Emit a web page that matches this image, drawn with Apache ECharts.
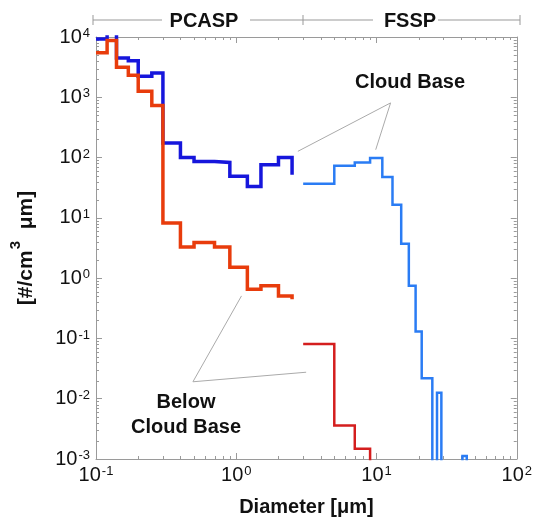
<!DOCTYPE html>
<html>
<head>
<meta charset="utf-8">
<script src="https://cdn.jsdelivr.net/npm/echarts@6/dist/echarts.min.js"></script>
<style>
html,body{margin:0;padding:0;background:#fff;}
#chart{width:535px;height:525px;}
</style>
</head>
<body>
<div id="chart"></div>
<script>
// PCASP bins (um) and concentrations (#/cm3 um)
var pcaspEdges = [0.1, 0.12, 0.14, 0.17, 0.2, 0.25, 0.3, 0.4, 0.5, 0.7, 0.9, 1.2, 1.5, 2.0, 2.5];
var pcaspCloud = [9300, 12000, 4500, 4050, 2230, 2540, 175, 100, 86, 83, 49, 33, 76, 100];
var pcaspCloudEnd = 52;
var pcaspBelow = [5470, 8750, 3150, 2320, 1260, 728, 8.2, 3.27, 3.9, 3.27, 1.52, 0.656, 0.745, 0.508];
var pcaspBelowEnd = 0.448;

// FSSP bins (um) and concentrations
var fsspEdges = [3, 5, 7, 9, 11, 13, 15, 17, 19, 21, 25, 27, 29, 41, 44];
var fsspCloud = [36.8, 73.3, 83, 98, 47.6, 16.5, 3.72, 0.745, 0.13, 0.0218, 0, 0.0126, 0, 0.00112];
var fsspCloudEnd = 0;
var fsspBelowEdges = [3, 5, 7, 9];
var fsspBelow = [0.081, 0.0036, 0.00148];
var fsspBelowEnd = 0;

// decades covered by the axes
var xDecades = [-1, 0, 1];
var yDecades = [-3, -2, -1, 0, 1, 2, 3];

var FLOOR = 1e-5; // empty bins, below the axis
var FONT = 'Liberation Sans, Arial, Helvetica, sans-serif';
var axisGray = '#9a9a9a';

function steps(edges, vals, endVal){
	var pts = [];
	for(var i=0; i<vals.length; i++){
		var v = vals[i] > 0 ? vals[i] : FLOOR;
		pts.push([edges[i], v]);
		pts.push([edges[i+1], v]);
	}
	pts.push([edges[vals.length], endVal > 0 ? endVal : FLOOR]);
	return pts;
}

function minorValues(decades){
	var out = [];
	for(var i=0; i<decades.length; i++){
		for(var k=2; k<=9; k++){
			out.push(k * Math.pow(10, decades[i]));
		}
	}
	return out;
}

function logLabel(v){
	var e = Math.round(Math.log(v) / Math.LN10);
	return '{b|10}{s|' + e + '}';
}

var labelRich = {
	b: {fontSize: 20, fontFamily: FONT, color: '#111'},
	s: {fontSize: 13, fontFamily: FONT, color: '#111', verticalAlign: 'top', padding: [0, 0, 0, 1]}
};

function logAxis(pos, min, max, split, showLabel){
	return {
		type: 'log',
		logBase: 10,
		min: min,
		max: max,
		splitNumber: split,
		position: pos,
		axisLine: {show: true, lineStyle: {color: axisGray, width: 1}},
		axisTick: {show: true, inside: true, length: 6, lineStyle: {color: axisGray}},
		minorTick: {show: false},
		splitLine: {show: false},
		axisLabel: {show: showLabel, formatter: logLabel, rich: labelRich, margin: 6}
	};
}

var xBottom = logAxis('bottom', 0.1, 100, 3, true);
xBottom.name = 'Diameter [{m|\u03bc}m]';
xBottom.nameLocation = 'middle';
xBottom.nameGap = 38;
xBottom.nameTextStyle = {
	fontSize: 20, fontWeight: 'bold', fontFamily: FONT, color: '#111',
	rich: {m: {fontSize: 20, fontFamily: FONT, color: '#111'}}
};

var yLeft = logAxis('left', 0.001, 10000, 7, true);
yLeft.name = '{a|[#/cm}{s|3}{a|  \u03bcm]}';
yLeft.nameLocation = 'middle';
yLeft.nameGap = 52;
yLeft.nameTextStyle = {
	fontSize: 21, fontWeight: 'bold', fontFamily: FONT, color: '#111',
	rich: {
		a: {fontSize: 21, fontWeight: 'bold', fontFamily: FONT, color: '#111', lineHeight: 36},
		s: {fontSize: 15, fontWeight: 'bold', fontFamily: FONT, color: '#111', verticalAlign: 'top', lineHeight: 18, padding: [0, 0, 0, 1]}
	}
};

var annLine = {color: '#aaaaaa', width: 1, type: 'solid'};

function tickLine(x1, y1, x2, y2){
	return {type: 'line', shape: {x1: x1, y1: y1, x2: x2, y2: y2}, style: {stroke: axisGray, lineWidth: 1}};
}

// minor log ticks (2..9 of each decade) on all four sides
function renderXMinor(params, api){
	var p = api.coord([api.value(0), 1]);
	var cs = params.coordSys;
	var x = Math.round(p[0]) + 0.5;
	return {type: 'group', children: [
		tickLine(x, cs.y + cs.height, x, cs.y + cs.height - 3),
		tickLine(x, cs.y, x, cs.y + 3)
	]};
}
function renderYMinor(params, api){
	var p = api.coord([1, api.value(1)]);
	var cs = params.coordSys;
	var y = Math.round(p[1]) + 0.5;
	return {type: 'group', children: [
		tickLine(cs.x, y, cs.x + 3, y),
		tickLine(cs.x + cs.width, y, cs.x + cs.width - 3, y)
	]};
}

var option = {
	animation: false,
	grid: {left: 95, right: 16, top: 37, bottom: 66},
	xAxis: [xBottom, logAxis('top', 0.1, 100, 3, false)],
	yAxis: [yLeft, logAxis('right', 0.001, 10000, 7, false)],
	series: [
		{
			type: 'custom',
			silent: true,
			renderItem: renderXMinor,
			data: minorValues(xDecades).map(function(v){ return [v, 1]; })
		},
		{
			type: 'custom',
			silent: true,
			renderItem: renderYMinor,
			data: minorValues(yDecades).map(function(v){ return [1, v]; })
		},
		{
			name: 'PCASP cloud base',
			type: 'line',
			data: steps(pcaspEdges, pcaspCloud, pcaspCloudEnd),
			showSymbol: false,
			lineStyle: {color: '#1616dc', width: 3.5, join: 'miter'},
			markLine: {
				silent: true,
				symbol: ['none', 'none'],
				label: {show: false},
				lineStyle: annLine,
				data: [
					[{coord: [12.6, 807]}, {coord: [2.75, 127]}],
					[{coord: [12.6, 807]}, {coord: [9.87, 135]}]
				]
			}
		},
		{
			name: 'PCASP below cloud base',
			type: 'line',
			data: steps(pcaspEdges, pcaspBelow, pcaspBelowEnd),
			showSymbol: false,
			lineStyle: {color: '#e83c0c', width: 3.5, join: 'miter'},
			markLine: {
				silent: true,
				symbol: ['none', 'none'],
				label: {show: false},
				lineStyle: annLine,
				data: [
					[{coord: [0.491, 0.0191]}, {coord: [1.09, 0.508]}],
					[{coord: [0.491, 0.0191]}, {coord: [3.15, 0.0275]}]
				]
			}
		},
		{
			name: 'FSSP cloud base',
			type: 'line',
			data: steps(fsspEdges, fsspCloud, fsspCloudEnd),
			showSymbol: false,
			lineStyle: {color: '#2a7cf4', width: 2.5, join: 'miter'}
		},
		{
			name: 'FSSP below cloud base',
			type: 'line',
			data: steps(fsspBelowEdges, fsspBelow, fsspBelowEnd),
			showSymbol: false,
			lineStyle: {color: '#d41e1e', width: 2.5, join: 'miter'}
		}
	],
	graphic: [
		{type: 'line', shape: {x1: 93, y1: 20, x2: 162, y2: 20}, style: {stroke: '#999', lineWidth: 1}},
		{type: 'line', shape: {x1: 250, y1: 20, x2: 373, y2: 20}, style: {stroke: '#999', lineWidth: 1}},
		{type: 'line', shape: {x1: 438, y1: 20, x2: 520, y2: 20}, style: {stroke: '#999', lineWidth: 1}},
		{type: 'line', shape: {x1: 93, y1: 15, x2: 93, y2: 25}, style: {stroke: '#999', lineWidth: 1}},
		{type: 'line', shape: {x1: 303, y1: 15, x2: 303, y2: 25}, style: {stroke: '#999', lineWidth: 1}},
		{type: 'line', shape: {x1: 520, y1: 15, x2: 520, y2: 25}, style: {stroke: '#999', lineWidth: 1}},
		{type: 'text', x: 204, y: 21, style: {text: 'PCASP', font: 'bold 20px ' + FONT, fill: '#111', textAlign: 'center', textVerticalAlign: 'middle'}},
		{type: 'text', x: 410, y: 21, style: {text: 'FSSP', font: 'bold 20px ' + FONT, fill: '#111', textAlign: 'center', textVerticalAlign: 'middle'}},
		{type: 'text', x: 410, y: 82, style: {text: 'Cloud Base', font: 'bold 20px ' + FONT, fill: '#111', textAlign: 'center', textVerticalAlign: 'middle'}},
		{type: 'text', x: 186, y: 402, style: {text: 'Below', font: 'bold 20px ' + FONT, fill: '#111', textAlign: 'center', textVerticalAlign: 'middle'}},
		{type: 'text', x: 186, y: 427, style: {text: 'Cloud Base', font: 'bold 20px ' + FONT, fill: '#111', textAlign: 'center', textVerticalAlign: 'middle'}}
	]
};

var chart = echarts.init(document.getElementById('chart'));
chart.setOption(option);
</script>
</body>
</html>
